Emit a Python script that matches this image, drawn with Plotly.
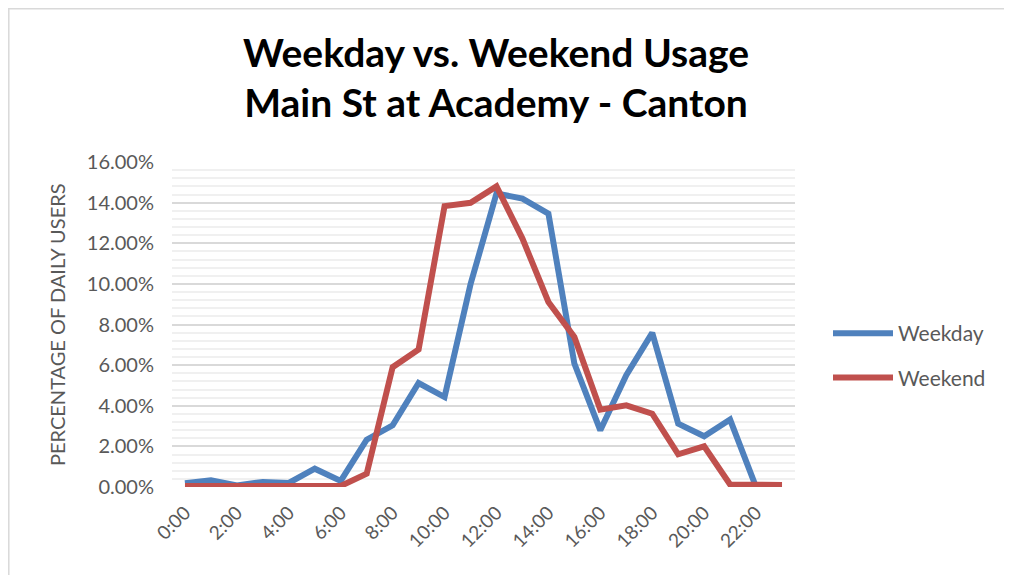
import plotly.graph_objects as go

hours = [f"{h}:00" for h in range(24)]
weekday = [0.0018, 0.0033, 0.0008, 0.0025, 0.0020, 0.0090, 0.0030, 0.0233, 0.0304, 0.0512,
           0.0443, 0.0998, 0.1445, 0.1420, 0.1346, 0.0608, 0.0279, 0.0550, 0.0759, 0.0312,
           0.0250, 0.0332, 0.0000, 0.0000]
weekend = [0.0005, 0.0005, 0.0005, 0.0005, 0.0005, 0.0005, 0.0005, 0.0066, 0.0590, 0.0677,
           0.1383, 0.1399, 0.1480, 0.1223, 0.0911, 0.0739, 0.0381, 0.0402, 0.0361, 0.0161,
           0.0200, 0.0012, 0.0010, 0.0010]
tick_labels = hours[::2]

# page body has an 8px margin, so figure is laid out 8px smaller / shifted
OFF = 8
W, H = 1012 - OFF, 575 - OFF
L, T = 172 - OFF, 162 - OFF
pw, ph = 623, 325
R, B = W - L - pw, H - T - ph


def px_x(x):
    """reference pixel x -> paper coordinate"""
    return (x - OFF - L) / pw


def px_y(y):
    """reference pixel y -> paper coordinate"""
    return (T + ph - (y - OFF)) / ph


font_family = "Lato, 'Open Sans', sans-serif"
grey = "#595959"

fig = go.Figure()
fig.add_trace(go.Scatter(x=hours, y=weekday, mode="lines", name="Weekday",
                         legendgroup="a",
                         line=dict(color="#4F81BD", width=6)))
fig.add_trace(go.Scatter(x=hours, y=weekend, mode="lines", name="Weekend",
                         legendgroup="b",
                         line=dict(color="#C0504D", width=6)))

fig.update_layout(
    width=W, height=H,
    margin=dict(l=L, r=R, t=T, b=B, autoexpand=False),
    paper_bgcolor="white", plot_bgcolor="white",
    title=dict(text="<b>Weekday vs. Weekend Usage<br>Main St at Academy - Canton</b>",
               x=(496 - OFF) / W, xanchor="center", y=1 - (66.5 - OFF) / H, yanchor="middle",
               font=dict(family=font_family, size=39, color="black")),
    font=dict(family=font_family, color=grey),
    legend=dict(x=px_x(828), y=px_y(355.5), xanchor="left", yanchor="middle",
                font=dict(size=21, color=grey), itemwidth=60, tracegroupgap=14,
                bgcolor="rgba(0,0,0,0)"),
    showlegend=True,
)
fig.update_xaxes(type="category", categoryorder="array", categoryarray=hours,
                 range=[-0.5, 23.5], tickmode="array", tickvals=tick_labels,
                 ticktext=tick_labels, tickangle=-45, showgrid=False,
                 tickfont=dict(size=19, color=grey), ticks="", zeroline=False,
                 showline=False, ticklabelstandoff=10)
fig.update_yaxes(range=[0, 0.16], dtick=0.02, tickformat=".2%",
                 tickfont=dict(size=20, color=grey), ticklabelstandoff=17,
                 gridcolor="#D9D9D9", gridwidth=1.5, zeroline=False,
                 minor=dict(dtick=0.004, showgrid=True, gridcolor="#F0F0F0", gridwidth=1.5))
fig.add_annotation(text="PERCENTAGE OF DAILY USERS", textangle=-90,
                   xref="paper", yref="paper", x=px_x(57), y=px_y(325),
                   xanchor="center", yanchor="middle", showarrow=False,
                   font=dict(size=20, color=grey))
# chart border (left and top edges)
fig.add_shape(type="line", xref="paper", yref="paper",
              x0=-L / pw + 0.8 / pw, x1=-L / pw + 0.8 / pw, y0=-B / ph, y1=(ph + T - 0.8) / ph,
              line=dict(color="#D9D9D9", width=1.5))
fig.add_shape(type="line", xref="paper", yref="paper",
              x0=-L / pw, x1=(W - L) / pw, y0=(ph + T - 0.8) / ph, y1=(ph + T - 0.8) / ph,
              line=dict(color="#D9D9D9", width=1.5))

fig.write_html("out.html")
